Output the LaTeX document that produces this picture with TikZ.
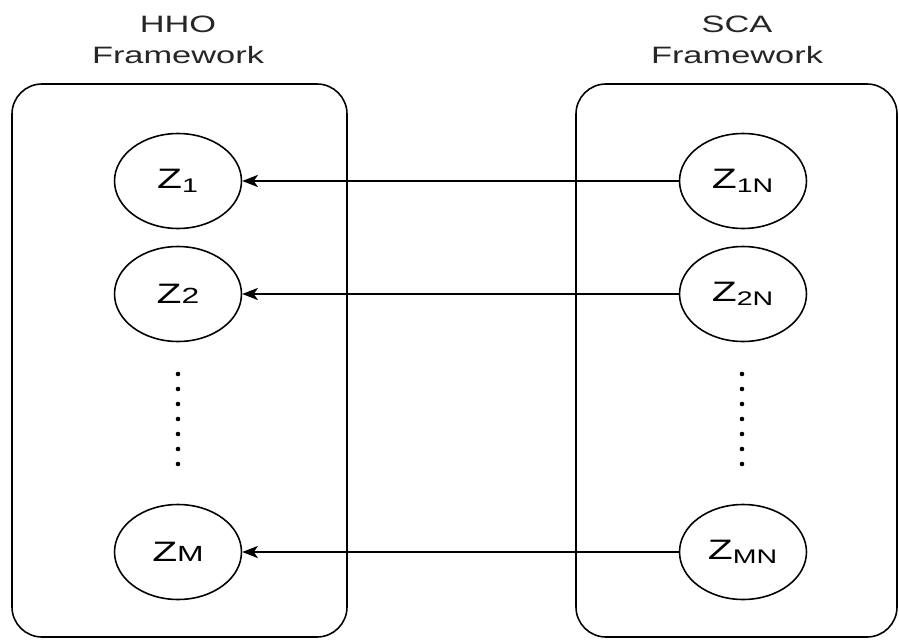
\documentclass[tikz,border=0pt]{standalone}
\usepackage{fontspec}
\setmainfont{Liberation Sans}[FakeStretch=1.45]
\usetikzlibrary{shapes.geometric,arrows.meta}
\begin{document}
\begin{tikzpicture}[x=0.02cm,y=-0.02cm,
    frame/.style={draw, line width=0.9pt, rounded corners=0.6cm},
    var/.style={draw, ellipse, line width=0.9pt, minimum width=2.54cm,
      minimum height=1.9cm, inner sep=0pt, font=\fontsize{16}{19}\selectfont},
    heading/.style={align=center, text=black!85, font=\fontsize{13.5}{17.6}\selectfont}]
    \useasboundingbox (0,0) rectangle (899,639);
    % the two frameworks
    \draw[frame] (12,84) rectangle (347,637);
    \draw[frame] (576,84) rectangle (897,637);
    \node[heading] (hho) at (178,40) {HHO\\Framework};
    \node[heading] (sca) at (737,40) {SCA\\Framework};
    % variables
    \node[var] (z1) at (178,181) {Z\textsubscript{1}};
    \node[var] (z2) at (178,294) {Z{\fontsize{12.5}{15}\selectfont 2}};
    \node[var] (zm) at (178,552) {Z{\fontsize{12.5}{15}\selectfont M}};
    \node[var] (z1n) at (743,181) {Z\textsubscript{1N}};
    \node[var] (z2n) at (743,294) {Z\textsubscript{2N}};
    \node[var] (zmn) at (743,552) {Z\textsubscript{MN}};
    %\draw[very thin,color=gray] (0,0) grid[step=50] (899,639);
    \foreach \i in {0,...,6} {
        \fill (178,374+15*\i) circle (1.3pt);
        \fill (742,374+15*\i) circle (1.3pt);
    }
    \draw [black, line width=0.7pt] [->,>={Stealth[length=9pt,width=7pt,inset=2.5pt]}] (z1n.west) -- (z1.east);
    \draw [black, line width=0.7pt] [->,>={Stealth[length=9pt,width=7pt,inset=2.5pt]}] (z2n.west) -- (z2.east);
    \draw [black, line width=0.7pt] [->,>={Stealth[length=9pt,width=7pt,inset=2.5pt]}] (zmn.west) -- (zm.east);

\end{tikzpicture}
\end{document}
